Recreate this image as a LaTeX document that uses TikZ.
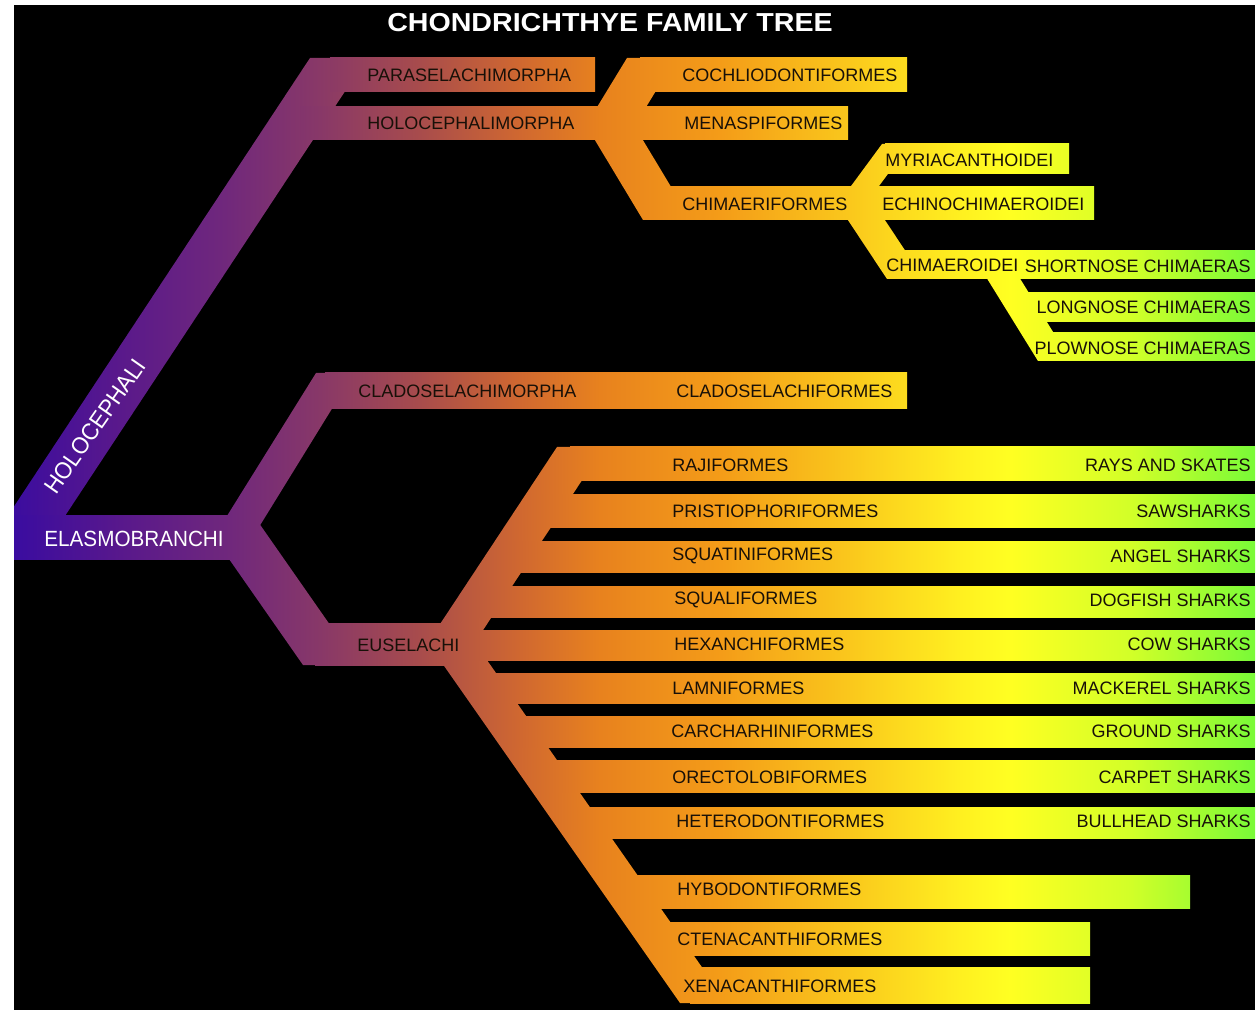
\documentclass[tikz,border=0pt]{standalone}
\usepackage{fontspec}
\setmainfont{Liberation Sans}
\newfontfamily\widefont{Liberation Sans}[FakeStretch=0.94]

\definecolor{labeltext}{RGB}{24,16,8}
\definecolor{g0}{RGB}{58,12,160}
\definecolor{g1}{RGB}{88,24,140}
\definecolor{g2}{RGB}{112,40,124}
\definecolor{g3}{RGB}{136,56,104}
\definecolor{g4}{RGB}{168,76,76}
\definecolor{g5}{RGB}{208,104,48}
\definecolor{g6}{RGB}{232,130,30}
\definecolor{g7}{RGB}{244,156,24}
\definecolor{g8}{RGB}{250,200,28}
\definecolor{g9}{RGB}{255,240,32}
\definecolor{g10}{RGB}{255,255,34}
\definecolor{g11}{RGB}{210,255,40}
\definecolor{g12}{RGB}{120,250,56}

\pgfdeclarehorizontalshading{treegrad}{100bp}{color(0bp)=(g0); color(25bp)=(g0);
  color(29.27bp)=(g1); color(33.7bp)=(g2); color(37.33bp)=(g3); color(41.36bp)=(g4);
  color(45.39bp)=(g5); color(48.61bp)=(g6); color(53.45bp)=(g7); color(58.68bp)=(g8);
  color(63.12bp)=(g9); color(65.13bp)=(g10); color(69.96bp)=(g11); color(75bp)=(g12);
  color(100bp)=(g12)}

\begin{document}
\begin{tikzpicture}[x=0.5pt, y=-0.5pt,
  band/.style = {path picture={\shade[shading=treegrad] (14,5) rectangle (1255,1010);}},
  lbl/.style = {anchor=west, inner sep=0pt, text=labeltext, font=\fontsize{9}{10}\selectfont},
  lblr/.style = {lbl, anchor=east},
  wlbl/.style = {inner sep=0pt, text=white, font=\widefont\fontsize{11}{12}\selectfont},
  heading/.style = {inner sep=0pt, text=white, font=\bfseries\fontsize{13}{14}\selectfont}]
\useasboundingbox (0,0) rectangle (1259,1010);
\fill[white] (0,0) rectangle (1259,1010);
\fill[black] (14,5) rectangle (1255,1010);

\begin{scope}
\clip (14,5) rectangle (1255,1010);
% holocephali
\path[band] (7.7,516) -- (310,58) -- (367,58) -- (65,516) -- cycle;
\path[band] (14,516) rectangle (232,560);
\path[band] (330,58) rectangle (595,92);
\path[band] (300,107) rectangle (848,140);
\path[band] (577,140) -- (627,58) -- (676,58) -- (626,140) -- cycle;
\path[band] (640,58) rectangle (907,92);
\path[band] (575,107) -- (623,107) -- (691,220) -- (643,220) -- cycle;
\path[band] (660,187) rectangle (1094,220);
\path[band] (826,220) -- (882,144) -- (910,144) -- (854,220) -- cycle;
\path[band] (885,144) rectangle (1069,174);
\path[band] (826,187) -- (863,187) -- (924,279) -- (887,279) -- cycle;
\path[band] (895,251) rectangle (1256,279);
\path[band] (970,251) -- (1003,251) -- (1071,361) -- (1038,361) -- cycle;
\path[band] (1020,293) rectangle (1256,322);
\path[band] (1045,333) rectangle (1256,361);
% elasmobranchi
\path[band] (212,540) -- (316,373) -- (354,373) -- (251,540) -- cycle;
\path[band] (199,516) -- (254,516) -- (358,665) -- (303,665) -- cycle;
\path[band] (325,373) rectangle (907,409);
\path[band] (315,623) rectangle (480,665);
\path[band] (413,665) -- (557,447) -- (604,447) -- (460,665) -- cycle;
\path[band] (414,623) -- (461,623) -- (727,1003) -- (680,1003) -- cycle;
\path[band] (570,447) rectangle (1256,481);
\path[band] (538,495) rectangle (1256,528);
\path[band] (507,542) rectangle (1256,573);
\path[band] (478,587) rectangle (1256,617);
\path[band] (470,630) rectangle (1256,660);
\path[band] (483,673) rectangle (1256,703);
\path[band] (513,716) rectangle (1256,747);
\path[band] (544,760) rectangle (1256,792);
\path[band] (576,807) rectangle (1256,838);
\path[band] (625,875) rectangle (1190,908);
\path[band] (658,922) rectangle (1090,955);
\path[band] (690,967) rectangle (1090,1003);
\end{scope}

\node[heading] (title) at (610,23) {\scalebox{1.1}[1]{CHONDRICHTHYE FAMILY TREE}};

\node[wlbl, rotate=55, font=\widefont\fontsize{11.8}{12}\selectfont] (holoceph) at (95,426) {HOLOCEPHALI};
\node[wlbl, anchor=west] (elasmo) at (44,539) {ELASMOBRANCHI};

\node[lbl] (paramorph) at (367,75) {PARASELACHIMORPHA};
\node[lbl] (holomorph) at (367,123) {HOLOCEPHALIMORPHA};
\node[lbl] (cochlio) at (682,75) {COCHLIODONTIFORMES};
\node[lbl] (menaspi) at (684,123) {MENASPIFORMES};
\node[lbl] (chimaeri) at (682,204) {CHIMAERIFORMES};
\node[lbl] (myria) at (885,160) {MYRIACANTHOIDEI};
\node[lbl] (echino) at (882,204) {ECHINOCHIMAEROIDEI};
\node[lbl] (chimaero) at (886,265) {CHIMAEROIDEI};
\node[lblr] (shortnose) at (1251,266) {SHORTNOSE CHIMAERAS};
\node[lblr] (longnose) at (1251,307) {LONGNOSE CHIMAERAS};
\node[lblr] (plownose) at (1251,348) {PLOWNOSE CHIMAERAS};

\node[lbl] (cladomorph) at (358,391) {CLADOSELACHIMORPHA};
\node[lbl] (cladoform) at (676,391) {CLADOSELACHIFORMES};
\node[lbl] (euselachi) at (357,645) {EUSELACHI};

\node[lbl] (raji) at (672,465) {RAJIFORMES};
\node[lblr] (rays) at (1251,465) {RAYS AND SKATES};
\node[lbl] (pristio) at (672,511) {PRISTIOPHORIFORMES};
\node[lblr] (saw) at (1251,511) {SAWSHARKS};
\node[lbl] (squatini) at (672,556) {SQUATINIFORMES};
\node[lblr] (angel) at (1251,556) {ANGEL SHARKS};
\node[lbl] (squali) at (674,600) {SQUALIFORMES};
\node[lblr] (dogfish) at (1251,600) {DOGFISH SHARKS};
\node[lbl] (hexanchi) at (674,644) {HEXANCHIFORMES};
\node[lblr] (cow) at (1251,644) {COW SHARKS};
\node[lbl] (lamni) at (672,688) {LAMNIFORMES};
\node[lblr] (mackerel) at (1251,688) {MACKEREL SHARKS};
\node[lbl] (carcha) at (671,731) {CARCHARHINIFORMES};
\node[lblr] (ground) at (1251,731) {GROUND SHARKS};
\node[lbl] (orecto) at (672,777) {ORECTOLOBIFORMES};
\node[lblr] (carpet) at (1251,777) {CARPET SHARKS};
\node[lbl] (hetero) at (676,821) {HETERODONTIFORMES};
\node[lblr] (bullhead) at (1251,821) {BULLHEAD SHARKS};
\node[lbl] (hybo) at (677,889) {HYBODONTIFORMES};
\node[lbl] (ctena) at (677,939) {CTENACANTHIFORMES};
\node[lbl] (xena) at (683,986) {XENACANTHIFORMES};
\end{tikzpicture}
\end{document}
